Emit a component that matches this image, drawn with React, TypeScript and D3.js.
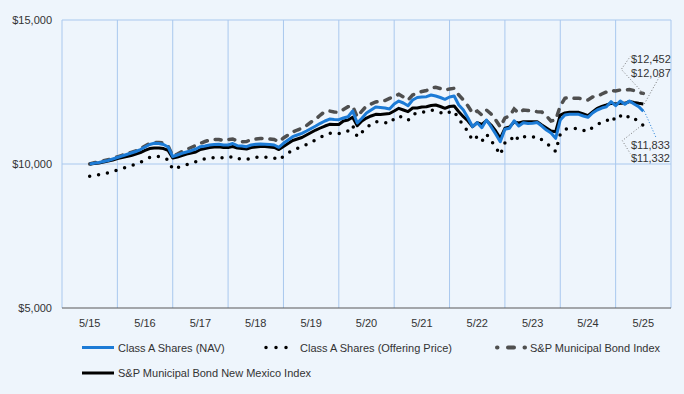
import React from 'react';
import * as d3 from 'd3';

// monthly values, 5/15 .. 5/25 (121 points)
const navValues = [
  10000, 10024, 10052, 10087, 10122, 10174, 10226, 10278, 10330, 10382, 10434, 10503,
  10590, 10677, 10719, 10712, 10677, 10590, 10253, 10312, 10372, 10417, 10462, 10521,
  10601, 10625, 10660, 10677, 10684, 10660, 10660, 10712, 10635, 10625, 10601, 10660,
  10684, 10694, 10684, 10677, 10660, 10580, 10719, 10833, 10948, 11007, 11066, 11146,
  11233, 11319, 11413, 11493, 11562, 11545, 11538, 11597, 11642, 11840, 11424, 11587,
  11771, 11875, 11979, 11962, 11944, 11910, 12083, 12187, 12118, 12024, 12222, 12309,
  12326, 12337, 12396, 12361, 12309, 12246, 12326, 12361, 12048, 11875, 11597, 11295,
  11434, 11260, 11528, 11295, 11042, 10774, 11205, 11240, 11503, 11319, 11434, 11406,
  11413, 11441, 11319, 11180, 11076, 10892, 11528, 11701, 11726, 11726, 11726, 11667,
  11621, 11771, 11875, 11944, 11990, 12163, 12024, 12187, 12073, 12187, 12083, 11990,
  11833,
];

const offerValues = [
  9577, 9600, 9627, 9660, 9694, 9744, 9793, 9843, 9893, 9943, 9993, 10059,
  10142, 10225, 10266, 10259, 10225, 10142, 9819, 9876, 9933, 9976, 10019, 10076,
  10153, 10176, 10209, 10225, 10232, 10209, 10209, 10259, 10185, 10176, 10153, 10209,
  10232, 10242, 10232, 10225, 10209, 10132, 10266, 10375, 10485, 10541, 10598, 10675,
  10758, 10840, 10930, 11007, 11073, 11057, 11050, 11106, 11150, 11339, 10941, 11097,
  11273, 11373, 11472, 11456, 11439, 11406, 11572, 11671, 11605, 11515, 11705, 11788,
  11805, 11815, 11872, 11838, 11788, 11728, 11805, 11838, 11538, 11373, 11106, 10817,
  10950, 10784, 11040, 10817, 10575, 10318, 10731, 10765, 11016, 10840, 10950, 10924,
  10930, 10957, 10840, 10707, 10607, 10431, 11040, 11206, 11230, 11230, 11230, 11173,
  11129, 11273, 11373, 11439, 11483, 11649, 11515, 11671, 11562, 11671, 11572, 11483,
  11332,
];

const spMuniValues = [
  10000, 10042, 10076, 10111, 10146, 10198, 10250, 10302, 10354, 10406, 10458, 10531,
  10625, 10712, 10746, 10746, 10729, 10625, 10278, 10347, 10434, 10503, 10573, 10642,
  10719, 10781, 10833, 10851, 10851, 10816, 10851, 10868, 10799, 10774, 10781, 10851,
  10868, 10885, 10892, 10868, 10851, 10774, 10903, 11007, 11111, 11180, 11240, 11337,
  11458, 11562, 11701, 11823, 11840, 11805, 11795, 11892, 11989, 12014, 11632, 11840,
  12014, 12083, 12153, 12187, 12205, 12281, 12344, 12420, 12326, 12222, 12396, 12465,
  12517, 12552, 12639, 12663, 12621, 12569, 12604, 12628, 12396, 12222, 12014, 11760,
  11840, 11701, 11875, 11736, 11528, 11285, 11597, 11667, 11910, 11771, 11875, 11858,
  11840, 11816, 11805, 11667, 11493, 11528, 12014, 12281, 12309, 12281, 12281, 12257,
  12222, 12326, 12344, 12430, 12500, 12552, 12535, 12569, 12569, 12587, 12552, 12482,
  12452,
];

const nmValues = [
  10000, 10017, 10035, 10069, 10104, 10139, 10191, 10226, 10260, 10295, 10347, 10399,
  10469, 10538, 10556, 10556, 10538, 10469, 10208, 10243, 10295, 10347, 10382, 10417,
  10503, 10538, 10573, 10590, 10597, 10573, 10573, 10608, 10556, 10538, 10521, 10573,
  10590, 10608, 10608, 10590, 10573, 10503, 10608, 10712, 10816, 10868, 10920, 11007,
  11094, 11180, 11250, 11319, 11378, 11371, 11371, 11493, 11528, 11621, 11330, 11493,
  11597, 11667, 11726, 11719, 11736, 11753, 11840, 11934, 11875, 11816, 11944, 11944,
  11979, 11989, 12031, 12048, 11996, 11934, 11996, 12014, 11816, 11642, 11493, 11295,
  11434, 11371, 11503, 11354, 11146, 10892, 11240, 11285, 11458, 11424, 11469, 11469,
  11469, 11469, 11354, 11250, 11146, 11121, 11701, 11771, 11795, 11795, 11795, 11736,
  11677, 11805, 11934, 11996, 12048, 12107, 12083, 12107, 12107, 12170, 12135, 12107,
  12087,
];

const xLabels = ['5/15', '5/16', '5/17', '5/18', '5/19', '5/20', '5/21', '5/22', '5/23', '5/24', '5/25'];
const yTicks = [5000, 10000, 15000];
const seriesNames = [
  'Class A Shares (NAV)',
  'Class A Shares (Offering Price)',
  'S&P Municipal Bond Index',
  'S&P Municipal Bond New Mexico Index',
];

const W = 684;
const H = 394;
const left = 62;
const right = 671;
const top = 20;
const bottom = 308;
const font = "'Liberation Sans', Arial, sans-serif";
const textColor = '#333';
const gridColor = '#a9c8ee';

const x = d3.scaleLinear().domain([-6, 126]).range([left, right]);
const y = d3.scaleLinear().domain([5000, 15000]).range([bottom, top]);
const fmt = d3.format('$,.0f');

const line = d3
  .line<number>()
  .x((_, i) => x(i))
  .y(d => y(d));

const BLUE = '#1c7bd6';
const GREY = '#4f4f4f';

export default function App() {
  const last = navValues.length - 1;
  const ex = x(last);

  // end labels, with dotted leaders from each series end
  const spEnd = y(spMuniValues[last]);
  const nmEnd = y(nmValues[last]);
  const navEnd = y(navValues[last]);
  const offEnd = y(offerValues[last]);

  return (
    <svg width={W} height={H} style={{ position: 'absolute', left: 0, top: 0 }} fontFamily={font}>
      <rect width={W} height={H} fill="#eef5fc" />

      {/* grid */}
      {d3.range(6, 126, 12).map(m => (
        <line key={m} x1={x(m)} x2={x(m)} y1={top} y2={bottom} stroke={gridColor} strokeWidth={1} />
      ))}
      <line x1={left} x2={left} y1={top} y2={bottom} stroke={gridColor} />
      <line x1={right} x2={right} y1={top} y2={bottom} stroke={gridColor} />
      {yTicks.slice(1).map(t => (
        <line key={t} x1={left} x2={right} y1={y(t)} y2={y(t)} stroke={gridColor} />
      ))}
      <line x1={left} x2={right} y1={bottom} y2={bottom} stroke="#595959" strokeWidth={1.2} />

      {yTicks.map(t => (
        <text key={t} x={52} y={y(t) + 4} textAnchor="end" fontSize={11} fill={textColor}>
          {fmt(t)}
        </text>
      ))}
      {xLabels.map((l, i) => (
        <text key={l} x={x(i * 12)} y={327} textAnchor="middle" fontSize={11} fill={textColor}>
          {l}
        </text>
      ))}

      {/* series */}
      <path d={line(spMuniValues) || ''} fill="none" stroke={GREY} strokeWidth={3.5} strokeDasharray="6,8" strokeLinecap="round" />
      <path d={line(offerValues) || ''} fill="none" stroke="#000" strokeWidth={3.5} strokeDasharray="0,9" strokeLinecap="round" />
      <path d={line(nmValues) || ''} fill="none" stroke="#000" strokeWidth={3} strokeLinejoin="round" />
      <path d={line(navValues) || ''} fill="none" stroke={BLUE} strokeWidth={3} strokeLinejoin="round" />

      {/* leaders */}
      <g fill="none" strokeWidth={1} strokeDasharray="1,2">
        <path d={`M${ex},${spEnd}L${ex - 22},${spEnd - 24}L${ex - 13},${spEnd - 37}`} stroke="#777" />
        <path d={`M${ex + 1},${nmEnd}L${ex + 16},${nmEnd - 27}`} stroke="#777" />
        <path d={`M${ex - 2},${offEnd}L${ex - 21},${offEnd + 15}L${ex - 13},${offEnd + 28}`} stroke="#777" />
        <path d={`M${ex + 1},${navEnd}L${ex + 13},${navEnd + 27}`} stroke={BLUE} />
      </g>
      <g fontSize={11} fill={textColor}>
        <text x={631} y={spEnd - 30}>{fmt(spMuniValues[last])}</text>
        <text x={631} y={nmEnd - 27}>{fmt(nmValues[last])}</text>
        <text x={631} y={navEnd + 38}>{fmt(navValues[last])}</text>
        <text x={631} y={offEnd + 36}>{fmt(offerValues[last])}</text>
      </g>

      {/* legend */}
      <g fontSize={11} fill={textColor}>
        <line x1={82} x2={114} y1={347.5} y2={347.5} stroke={BLUE} strokeWidth={3} />
        <text x={118} y={351.5}>{seriesNames[0]}</text>
        <line x1={266} x2={296} y1={347.5} y2={347.5} stroke="#000" strokeWidth={3.5} strokeDasharray="0,10" strokeLinecap="round" />
        <text x={300} y={351.5}>{seriesNames[1]}</text>
        <line x1={497} x2={525} y1={347.5} y2={347.5} stroke={GREY} strokeWidth={4} strokeDasharray="0.5,10.5,6,10.5,0.5" strokeLinecap="round" />
        <text x={530} y={351.5}>{seriesNames[2]}</text>
        <line x1={82} x2={114} y1={373} y2={373} stroke="#000" strokeWidth={3} />
        <text x={118} y={377}>{seriesNames[3]}</text>
      </g>
    </svg>
  );
}
